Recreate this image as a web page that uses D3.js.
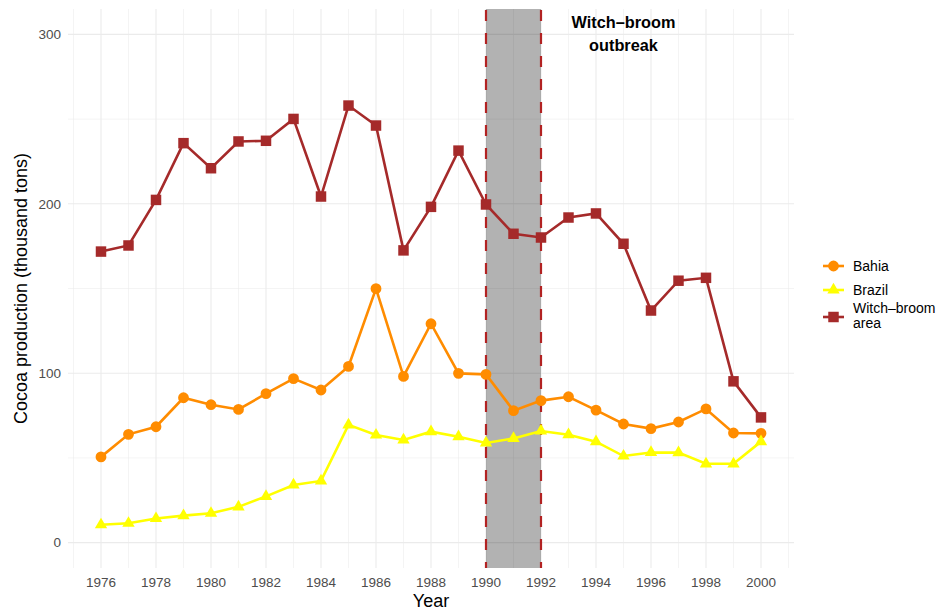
<!DOCTYPE html>
<html>
<head>
<meta charset="utf-8">
<script src="https://cdn.jsdelivr.net/npm/d3@7"></script>
<style>
  body { margin: 0; background: #fff; }
  svg { font-family: "Liberation Sans", Arial, sans-serif; }
</style>
</head>
<body>
<div id="chart"></div>
<script>
// data
const years = d3.range(1976, 2001);
const bahia = [50.6, 63.9, 68.4, 85.5, 81.4, 78.6, 87.9, 96.8, 90.1, 104.0, 149.9, 98.1, 129.2, 99.9, 99.3,
  77.9, 83.8, 86.1, 78.2, 70.0, 67.3, 71.2, 78.9, 64.7, 64.5];
const brazil = [10.5, 11.4, 14.2, 15.9, 17.3, 21.1, 27.3, 34.0, 36.4, 69.5, 63.5, 60.6, 65.5, 62.5, 58.8,
  61.5, 65.9, 63.7, 59.6, 51.1, 53.2, 53.1, 46.5, 46.5, 59.6];
const witchBroom = [171.8, 175.4, 202.3, 235.8, 221.0, 236.8, 237.2, 250.1, 204.3, 258.0, 246.2, 172.5, 198.2,
  231.4, 199.6, 182.3, 180.1, 191.9, 194.3, 176.4, 137.0, 154.6, 156.3, 95.2, 73.9];
const seriesNames = ["Bahia", "Brazil", "Witch\u2013broom area"];
const seriesColors = ["#ff8c00", "#ffff00", "#a52a2a"];
const seriesShapes = [d3.symbolCircle, d3.symbolTriangle, d3.symbolSquare];
const outbreak = [1990, 1992];
const xTicks = d3.range(1976, 2001, 2);
const yTicks = [0, 100, 200, 300];

const width = 941, height = 610;
const margin = {top: 9, left: 68, right: 147, bottom: 42};
const pw = width - margin.left - margin.right;
const ph = height - margin.top - margin.bottom;

const x = d3.scaleLinear().domain([1974.8, 2001.2]).range([0, pw]);
const y = d3.scaleLinear().domain([-15, 315]).range([ph, 0]);

const svg = d3.select("#chart").append("svg")
  .attr("width", width).attr("height", height);
const g = svg.append("g").attr("transform", `translate(${margin.left},${margin.top})`);

// grid
const grid = g.append("g");
grid.selectAll(".ymin").data([50, 150, 250]).join("line")
  .attr("x1", 0).attr("x2", pw).attr("y1", d => y(d)).attr("y2", d => y(d))
  .attr("stroke", "#ebebeb").attr("stroke-width", 0.55);
grid.selectAll(".xmin").data(d3.range(1975, 2002, 2)).join("line")
  .attr("y1", 0).attr("y2", ph).attr("x1", d => x(d)).attr("x2", d => x(d))
  .attr("stroke", "#ebebeb").attr("stroke-width", 0.55);
grid.selectAll(".ymaj").data(yTicks).join("line")
  .attr("x1", 0).attr("x2", pw).attr("y1", d => y(d)).attr("y2", d => y(d))
  .attr("stroke", "#ebebeb").attr("stroke-width", 1.1);
grid.selectAll(".xmaj").data(xTicks).join("line")
  .attr("y1", 0).attr("y2", ph).attr("x1", d => x(d)).attr("x2", d => x(d))
  .attr("stroke", "#ebebeb").attr("stroke-width", 1.1);

// outbreak band
g.append("rect")
  .attr("x", x(outbreak[0])).attr("width", x(outbreak[1]) - x(outbreak[0]))
  .attr("y", 0).attr("height", ph)
  .attr("fill", "#000").attr("fill-opacity", 0.3);
g.selectAll(".vl").data(outbreak).join("line")
  .attr("x1", d => x(d)).attr("x2", d => x(d)).attr("y1", 0).attr("y2", ph)
  .attr("stroke", "#b22222").attr("stroke-width", 2.2)
  .attr("stroke-dasharray", "11,12").attr("stroke-dashoffset", -1);

// annotation
const annX = x(1995);
const ann = g.append("text")
  .attr("x", annX).attr("y", y(300))
  .attr("text-anchor", "middle").attr("font-weight", "bold")
  .attr("font-size", 16.3).attr("fill", "#000");
ann.append("tspan").attr("x", annX).attr("dy", -6).text("Witch\u2013broom");
ann.append("tspan").attr("x", annX).attr("dy", 23).text("outbreak");

// series
const allSeries = [bahia, brazil, witchBroom];
const line = d3.line().x((d, i) => x(years[i])).y(d => y(d));
const sizes = [92, 66, 110];

allSeries.forEach((vals, k) => {
  g.append("path").datum(vals)
    .attr("d", line).attr("fill", "none")
    .attr("stroke", seriesColors[k]).attr("stroke-width", 2.6);
  g.selectAll(".pt" + k).data(vals).join("path")
    .attr("transform", (d, i) => `translate(${x(years[i])},${y(d)})`)
    .attr("d", d3.symbol().type(seriesShapes[k]).size(sizes[k]))
    .attr("fill", seriesColors[k]);
});

// axes
const yAx = g.append("g").attr("font-size", 13.5).attr("fill", "#4d4d4d");
yAx.selectAll("text").data(yTicks).join("text")
  .attr("x", -7).attr("y", d => y(d)).attr("dy", "0.35em")
  .attr("text-anchor", "end").text(d => d);
const xAx = g.append("g").attr("font-size", 13.5).attr("fill", "#4d4d4d");
xAx.selectAll("text").data(xTicks).join("text")
  .attr("x", d => x(d)).attr("y", ph + 19)
  .attr("text-anchor", "middle").text(d => d);

svg.append("text")
  .attr("x", margin.left + pw / 2).attr("y", 607)
  .attr("text-anchor", "middle").attr("font-size", 18).text("Year");
svg.append("text")
  .attr("transform", `translate(27,${margin.top + ph / 2}) rotate(-90)`)
  .attr("text-anchor", "middle").attr("font-size", 18)
  .text("Cocoa production (thousand tons)");

// legend
const lg = svg.append("g").attr("transform", "translate(821,0)");
const keyY = [266, 290, 317];
seriesNames.forEach((name, k) => {
  const row = lg.append("g").attr("transform", `translate(0,${keyY[k]})`);
  row.append("line").attr("x1", 2).attr("x2", 23)
    .attr("stroke", seriesColors[k]).attr("stroke-width", 2.6);
  row.append("path").attr("transform", "translate(12.5,0)")
    .attr("d", d3.symbol().type(seriesShapes[k]).size(sizes[k])).attr("fill", seriesColors[k]);
  const t = row.append("text").attr("x", 32).attr("font-size", 14).attr("fill", "#000");
  if (k === 2) {
    t.append("tspan").attr("x", 32).attr("dy", -4).text("Witch\u2013broom");
    t.append("tspan").attr("x", 32).attr("dy", 15).text("area");
  } else {
    t.attr("dy", "0.35em").text(name);
  }
});
</script>
</body>
</html>
